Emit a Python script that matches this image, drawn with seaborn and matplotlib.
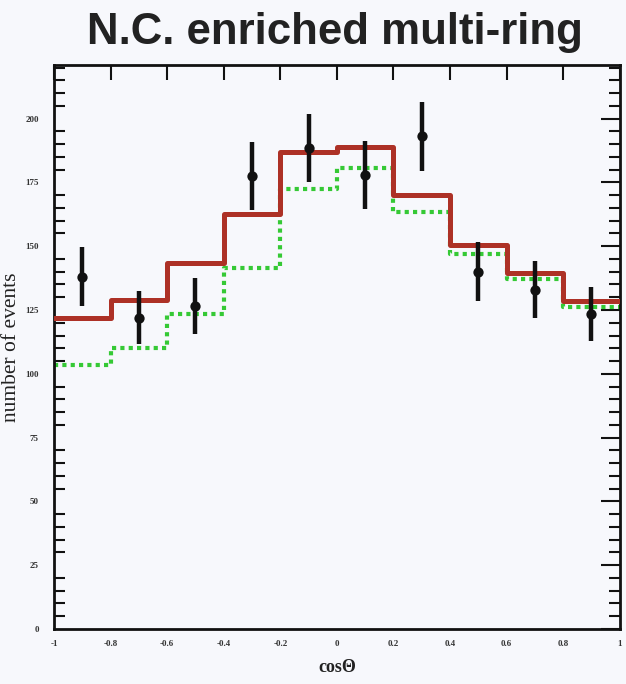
import numpy as np
import pandas as pd
import matplotlib
matplotlib.use("Agg")
import matplotlib.pyplot as plt
from matplotlib.ticker import MultipleLocator
import seaborn as sns

# Zenith-angle distribution, N.C. enriched multi-ring sample
bin_edges = [-1.0, -0.8, -0.6, -0.4, -0.2, 0.0, 0.2, 0.4, 0.6, 0.8, 1.0]
bin_centers = [-0.9, -0.7, -0.5, -0.3, -0.1, 0.1, 0.3, 0.5, 0.7, 0.9]
mc_osc = [122, 129, 143.5, 162.5, 187, 189, 170, 150.5, 139.5, 128.5]
mc_alt = [103.5, 110, 123.5, 141.5, 172.5, 180.5, 163.5, 147, 137, 126]
data_counts = [138, 122, 126.5, 177.5, 188.5, 178, 193, 140, 133, 123.5]
data_errors = [11.5, 10.5, 11, 13.5, 13.3, 13.3, 13.6, 11.5, 11, 10.5]
x_ticks = [-1, -0.8, -0.6, -0.4, -0.2, 0, 0.2, 0.4, 0.6, 0.8, 1]
x_tick_labels = ["-1", "-0.8", "-0.6", "-0.4", "-0.2", "0", "0.2", "0.4", "0.6", "0.8", "1"]
y_ticks = [0, 25, 50, 75, 100, 125, 150, 175, 200]

sns.set_theme(style="white")
plt.rcParams["font.family"] = ["Liberation Serif", "DejaVu Serif"]

bg = "#f7f8fc"
fig = plt.figure(figsize=(6.26, 6.84), dpi=100, facecolor=bg)
ax = fig.add_axes([0.0863, 0.0804, 0.9037, 0.8246])
ax.set_facecolor(bg)

hist_df = pd.DataFrame({"x": bin_centers, "osc": mc_osc, "alt": mc_alt})
sns.histplot(data=hist_df, x="x", weights="alt", bins=bin_edges, element="step",
             fill=False, color="#35c935", linewidth=3.0, linestyle=(0, (1, 1)),
             ax=ax, zorder=2)
sns.histplot(data=hist_df, x="x", weights="osc", bins=bin_edges, element="step",
             fill=False, color="#ad3126", linewidth=3.6, ax=ax, zorder=3)

ax.errorbar(bin_centers, data_counts, yerr=data_errors, fmt="none",
            ecolor="#111111", elinewidth=3.2, capsize=0, zorder=4)
sns.scatterplot(x=bin_centers, y=data_counts, color="#111111", s=55,
                edgecolor="#111111", linewidth=0, ax=ax, zorder=5)

ax.set_xlim(-1, 1)
ax.set_ylim(0, 221)
ax.set_xticks(x_ticks)
ax.set_xticklabels(x_tick_labels)
ax.set_yticks(y_ticks)
ax.set_yticklabels([str(v) for v in y_ticks])
ax.yaxis.set_minor_locator(MultipleLocator(5))

ax.tick_params(axis="both", which="both", direction="in", color="#111111",
               top=True, right=True, labelsize=6.5)
ax.tick_params(axis="x", which="major", length=11, width=1.5, pad=8)
ax.tick_params(axis="y", which="major", length=14, width=1.5, pad=11)
ax.tick_params(axis="y", which="minor", length=8, width=1.5, left=True, right=True)
for lab in ax.get_xticklabels() + ax.get_yticklabels():
    lab.set_fontweight("bold")
    lab.set_color("#333333")

for side in ["left", "right", "top", "bottom"]:
    ax.spines[side].set_visible(True)
    ax.spines[side].set_color("#111111")
    ax.spines[side].set_linewidth(2.0)

ax.set_xlabel("cosΘ", fontsize=13, fontweight="bold", color="#222222")
ax.xaxis.set_label_coords(0.5, -0.054)
ax.set_ylabel("number of events", fontsize=15.5, color="#222222")
ax.yaxis.set_label_coords(-0.058, 0.5)

fig.text(0.535, 0.953, "N.C. enriched multi-ring", ha="center", va="center",
         fontsize=31.5, fontweight="bold", color="#222222",
         family=["Liberation Sans", "DejaVu Sans"])

fig.savefig("out.png", dpi=100, facecolor=bg)
